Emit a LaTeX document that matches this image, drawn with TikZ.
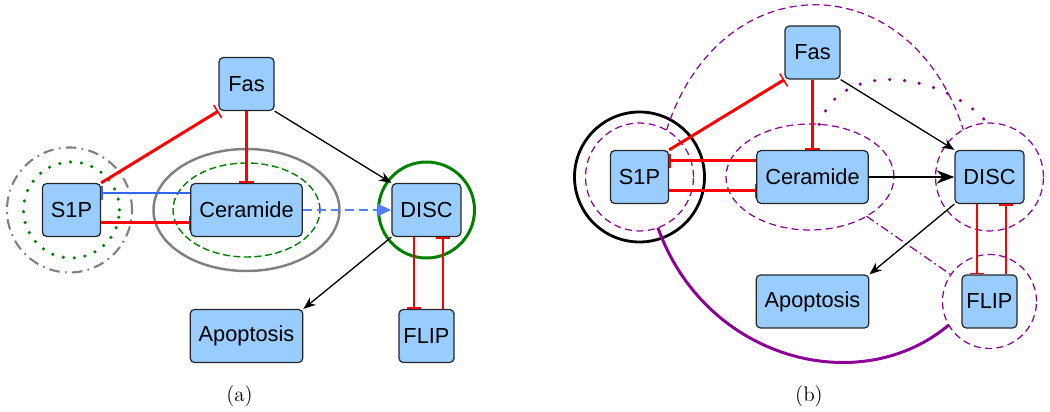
\documentclass[tikz,border=0pt]{standalone}
\usepackage{fontspec}
\newfontfamily\genefont{Liberation Sans}
\usetikzlibrary{arrows.meta,shapes.geometric}
\definecolor{genefill}{RGB}{153,204,255}
\definecolor{inhred}{RGB}{255,0,0}
\definecolor{inhblue}{RGB}{51,102,255}
\definecolor{actblue}{RGB}{80,130,255}
\definecolor{darkgreen}{RGB}{0,128,0}
\definecolor{modpurple}{RGB}{140,0,150}

\begin{document}
\begin{tikzpicture}[>={Stealth[length=7pt,width=5.5pt]},node distance=3.5cm]
  \tikzstyle{gene}=[draw=black!85,line width=0.7pt,fill=genefill,rounded corners=2.5pt,
                    minimum width=1.1cm,minimum height=1.06cm,inner xsep=0.17cm,
                    font=\genefont\fontsize{12.4}{14}\selectfont]
  \tikzstyle{region}=[inner sep=0pt,outer sep=0pt]
  \tikzstyle{inh}=[-{Bar[width=8.5pt,line width=0.9pt]},inhred,line width=1.7pt]
  \tikzstyle{act}=[->,line width=0.75pt]
  \tikzstyle{purpdash}=[draw=modpurple,line width=0.7pt,dash pattern=on 4pt off 2.5pt]
  \tikzstyle{caption}=[font=\fontsize{12}{14}\selectfont]

  \useasboundingbox (0,0) rectangle (21,-8.24);

  % (a)
  \node[gene] (Cera) at (4.93,-4.2) {Ceramide};
  \node[gene] (S1Pa)  [left of=Cera]                        {S1P};
  \node[gene] (DISCa) [right of=Cera,node distance=3.6cm]   {DISC};
  \node[gene] (Fasa)  [above of=Cera,node distance=2.52cm]  {Fas};
  \node[gene] (Apoa)  [below of=Cera,node distance=2.52cm]  {Apoptosis};
  \node[gene,inner xsep=0.09cm,minimum width=1.06cm] (FLIPa) [below of=DISCa,node distance=2.52cm] {FLIP};

  \node[region,circle,draw=gray,line width=1.2pt,dash pattern=on 6pt off 3pt on 1pt off 3pt,
        minimum size=2.5cm] (rS1Pa) at ([xshift=-0.04cm]S1Pa) {};
  \node[region,circle,draw=darkgreen,line width=2pt,line cap=round,dash pattern=on 0pt off 6.2pt,
        minimum size=1.92cm] (gS1Pa) at (S1Pa) {};
  \node[region,ellipse,draw=gray,line width=1.4pt,minimum width=3.72cm,minimum height=2.44cm] (rCera) at (Cera) {};
  \node[region,ellipse,draw=darkgreen,line width=0.8pt,dash pattern=on 4pt off 2pt,
        minimum width=2.94cm,minimum height=1.88cm] (gCera) at (Cera) {};
  \node[region,circle,draw=darkgreen,line width=1.7pt,minimum size=1.92cm] (rDISCa) at (DISCa) {};

  \path (S1Pa.north east) edge[inh] (Fasa.south west)
        (Fasa) edge[inh] (Cera)
        ([yshift=-0.26cm]S1Pa.east) edge[inh] ([yshift=-0.26cm]Cera.west)
        ([yshift=0.34cm]Cera.west) edge[-{Bar[width=8pt,line width=0.8pt]},inhblue,line width=1.2pt] ([yshift=0.34cm]S1Pa.east)
        (Fasa.south east) edge[act] (DISCa.north west)
        (Cera) edge[-{Triangle[length=8pt,width=7pt]},actblue,line width=1pt,dash pattern=on 5pt off 3pt] (DISCa)
        (DISCa.south west) edge[act] (Apoa.north east)
        ([xshift=-0.25cm]DISCa.south) edge[inh] ([xshift=-0.25cm]FLIPa.north)
        ([xshift=0.33cm]FLIPa.north) edge[inh] ([xshift=0.33cm]DISCa.south);

  \node[caption] (capa) at (4.79,-7.92) {(a)};

  % (b)
  \node[gene] (Cerb) at (16.25,-3.54) {Ceramide};
  \node[gene] (S1Pb)  [left of=Cerb,node distance=3.46cm]   {S1P};
  \node[gene] (DISCb) [right of=Cerb,node distance=3.54cm]  {DISC};
  \node[gene] (Fasb)  [above of=Cerb,node distance=2.49cm]  {Fas};
  \node[gene] (Apob)  [below of=Cerb,node distance=2.49cm]  {Apoptosis};
  \node[gene,inner xsep=0.09cm,minimum width=1.06cm] (FLIPb) [below of=DISCb,node distance=2.49cm] {FLIP};

  \node[region,circle,draw=black,line width=1.6pt,minimum size=2.6cm] (kS1Pb) at (S1Pb) {};
  \node[region,circle,purpdash,minimum size=2.16cm] (pS1Pb) at (S1Pb) {};
  \node[region,ellipse,purpdash,minimum width=3.36cm,minimum height=2.12cm] (pCerb) at ([xshift=-0.05cm]Cerb) {};
  \node[region,circle,purpdash,minimum size=2.16cm] (pDISCb) at (DISCb) {};
  \node[region,circle,purpdash,minimum size=1.88cm] (pFLIPb) at (FLIPb) {};

  \draw[purpdash] (pS1Pb.60) .. controls (14.4,0.74) and (18.2,0.74) .. (pDISCb.119);
  \draw[modpurple,line width=2pt,line cap=round,dash pattern=on 0pt off 8.5pt]
        (pCerb.80) .. controls (16.8,-1.2) and (18.8,-1.4) .. (pDISCb.92);
  \draw[modpurple,line width=0.7pt,dash pattern=on 5pt off 2pt on 1pt off 2pt] (pCerb) -- (pFLIPb);
  \draw[modpurple,line width=1.7pt] (pS1Pb.-70) .. controls (14.1,-7.2) and (17.2,-8.0) .. (pFLIPb.-150);

  \path (S1Pb.north east) edge[inh] (Fasb.south west)
        (Fasb) edge[inh] (Cerb)
        ([yshift=0.32cm]Cerb.west) edge[inh] ([yshift=0.32cm]S1Pb.east)
        ([yshift=-0.28cm]S1Pb.east) edge[inh] ([yshift=-0.28cm]Cerb.west)
        (Fasb.south east) edge[act] (DISCb.north west)
        (Cerb) edge[-{Stealth[length=10pt,width=7.5pt]},line width=1.6pt] (DISCb)
        (DISCb.south west) edge[act] (Apob.north east)
        ([xshift=-0.25cm]DISCb.south) edge[inh] ([xshift=-0.25cm]FLIPb.north)
        ([xshift=0.33cm]FLIPb.north) edge[inh] ([xshift=0.33cm]DISCb.south);

  \node[caption] (capb) at (16.18,-7.92) {(b)};
\end{tikzpicture}
\end{document}
